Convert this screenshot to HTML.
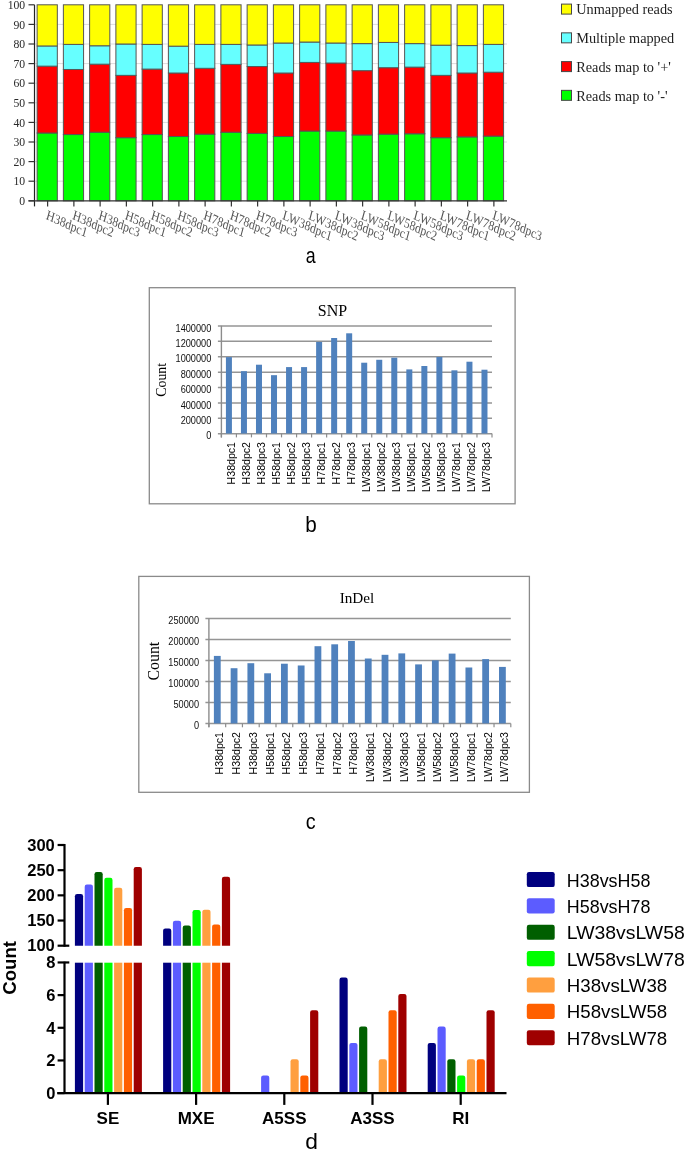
<!DOCTYPE html>
<html><head><meta charset="utf-8"><title>Figure</title>
<style>
html,body{margin:0;padding:0;background:#fff;}
body{width:685px;height:1149px;overflow:hidden;font-family:"Liberation Sans",sans-serif;}
svg{display:block;will-change:transform;}
</style></head><body>
<svg width="685" height="1149" viewBox="0 0 685 1149">
<rect width="685" height="1149" fill="#fff"/>
<g id="chartA">
<line x1="34.5" y1="181.2" x2="507" y2="181.2" stroke="#dcdcdc" stroke-width="1"/>
<line x1="34.5" y1="161.6" x2="507" y2="161.6" stroke="#dcdcdc" stroke-width="1"/>
<line x1="34.5" y1="142" x2="507" y2="142" stroke="#dcdcdc" stroke-width="1"/>
<line x1="34.5" y1="122.4" x2="507" y2="122.4" stroke="#dcdcdc" stroke-width="1"/>
<line x1="34.5" y1="102.8" x2="507" y2="102.8" stroke="#dcdcdc" stroke-width="1"/>
<line x1="34.5" y1="83.2" x2="507" y2="83.2" stroke="#dcdcdc" stroke-width="1"/>
<line x1="34.5" y1="63.6" x2="507" y2="63.6" stroke="#dcdcdc" stroke-width="1"/>
<line x1="34.5" y1="44" x2="507" y2="44" stroke="#dcdcdc" stroke-width="1"/>
<line x1="34.5" y1="24.4" x2="507" y2="24.4" stroke="#dcdcdc" stroke-width="1"/>
<rect x="37.12" y="132.98" width="20.2" height="67.82" fill="#00ff00" stroke="#555" stroke-width="1"/>
<rect x="37.12" y="66.15" width="20.2" height="66.84" fill="#ff0000" stroke="#555" stroke-width="1"/>
<rect x="37.12" y="45.96" width="20.2" height="20.19" fill="#66ffff" stroke="#555" stroke-width="1"/>
<rect x="37.12" y="4.8" width="20.2" height="41.16" fill="#ffff00" stroke="#555" stroke-width="1"/>
<rect x="63.37" y="134.55" width="20.2" height="66.25" fill="#00ff00" stroke="#555" stroke-width="1"/>
<rect x="63.37" y="69.48" width="20.2" height="65.07" fill="#ff0000" stroke="#555" stroke-width="1"/>
<rect x="63.37" y="44.39" width="20.2" height="25.09" fill="#66ffff" stroke="#555" stroke-width="1"/>
<rect x="63.37" y="4.8" width="20.2" height="39.59" fill="#ffff00" stroke="#555" stroke-width="1"/>
<rect x="89.62" y="132.2" width="20.2" height="68.6" fill="#00ff00" stroke="#555" stroke-width="1"/>
<rect x="89.62" y="64.19" width="20.2" height="68.01" fill="#ff0000" stroke="#555" stroke-width="1"/>
<rect x="89.62" y="45.76" width="20.2" height="18.42" fill="#66ffff" stroke="#555" stroke-width="1"/>
<rect x="89.62" y="4.8" width="20.2" height="40.96" fill="#ffff00" stroke="#555" stroke-width="1"/>
<rect x="115.88" y="137.69" width="20.2" height="63.11" fill="#00ff00" stroke="#555" stroke-width="1"/>
<rect x="115.88" y="75.36" width="20.2" height="62.33" fill="#ff0000" stroke="#555" stroke-width="1"/>
<rect x="115.88" y="44" width="20.2" height="31.36" fill="#66ffff" stroke="#555" stroke-width="1"/>
<rect x="115.88" y="4.8" width="20.2" height="39.2" fill="#ffff00" stroke="#555" stroke-width="1"/>
<rect x="142.12" y="134.55" width="20.2" height="66.25" fill="#00ff00" stroke="#555" stroke-width="1"/>
<rect x="142.12" y="69.09" width="20.2" height="65.46" fill="#ff0000" stroke="#555" stroke-width="1"/>
<rect x="142.12" y="44.39" width="20.2" height="24.7" fill="#66ffff" stroke="#555" stroke-width="1"/>
<rect x="142.12" y="4.8" width="20.2" height="39.59" fill="#ffff00" stroke="#555" stroke-width="1"/>
<rect x="168.38" y="136.51" width="20.2" height="64.29" fill="#00ff00" stroke="#555" stroke-width="1"/>
<rect x="168.38" y="73.01" width="20.2" height="63.5" fill="#ff0000" stroke="#555" stroke-width="1"/>
<rect x="168.38" y="46.16" width="20.2" height="26.85" fill="#66ffff" stroke="#555" stroke-width="1"/>
<rect x="168.38" y="4.8" width="20.2" height="41.36" fill="#ffff00" stroke="#555" stroke-width="1"/>
<rect x="194.62" y="134.16" width="20.2" height="66.64" fill="#00ff00" stroke="#555" stroke-width="1"/>
<rect x="194.62" y="68.3" width="20.2" height="65.86" fill="#ff0000" stroke="#555" stroke-width="1"/>
<rect x="194.62" y="44.39" width="20.2" height="23.91" fill="#66ffff" stroke="#555" stroke-width="1"/>
<rect x="194.62" y="4.8" width="20.2" height="39.59" fill="#ffff00" stroke="#555" stroke-width="1"/>
<rect x="220.88" y="132.2" width="20.2" height="68.6" fill="#00ff00" stroke="#555" stroke-width="1"/>
<rect x="220.88" y="64.38" width="20.2" height="67.82" fill="#ff0000" stroke="#555" stroke-width="1"/>
<rect x="220.88" y="44.39" width="20.2" height="19.99" fill="#66ffff" stroke="#555" stroke-width="1"/>
<rect x="220.88" y="4.8" width="20.2" height="39.59" fill="#ffff00" stroke="#555" stroke-width="1"/>
<rect x="247.13" y="133.38" width="20.2" height="67.42" fill="#00ff00" stroke="#555" stroke-width="1"/>
<rect x="247.13" y="66.54" width="20.2" height="66.84" fill="#ff0000" stroke="#555" stroke-width="1"/>
<rect x="247.13" y="44.98" width="20.2" height="21.56" fill="#66ffff" stroke="#555" stroke-width="1"/>
<rect x="247.13" y="4.8" width="20.2" height="40.18" fill="#ffff00" stroke="#555" stroke-width="1"/>
<rect x="273.38" y="136.51" width="20.2" height="64.29" fill="#00ff00" stroke="#555" stroke-width="1"/>
<rect x="273.38" y="73.01" width="20.2" height="63.5" fill="#ff0000" stroke="#555" stroke-width="1"/>
<rect x="273.38" y="43.02" width="20.2" height="29.99" fill="#66ffff" stroke="#555" stroke-width="1"/>
<rect x="273.38" y="4.8" width="20.2" height="38.22" fill="#ffff00" stroke="#555" stroke-width="1"/>
<rect x="299.62" y="131.02" width="20.2" height="69.78" fill="#00ff00" stroke="#555" stroke-width="1"/>
<rect x="299.62" y="62.42" width="20.2" height="68.6" fill="#ff0000" stroke="#555" stroke-width="1"/>
<rect x="299.62" y="42.04" width="20.2" height="20.38" fill="#66ffff" stroke="#555" stroke-width="1"/>
<rect x="299.62" y="4.8" width="20.2" height="37.24" fill="#ffff00" stroke="#555" stroke-width="1"/>
<rect x="325.88" y="131.02" width="20.2" height="69.78" fill="#00ff00" stroke="#555" stroke-width="1"/>
<rect x="325.88" y="63.01" width="20.2" height="68.01" fill="#ff0000" stroke="#555" stroke-width="1"/>
<rect x="325.88" y="43.02" width="20.2" height="19.99" fill="#66ffff" stroke="#555" stroke-width="1"/>
<rect x="325.88" y="4.8" width="20.2" height="38.22" fill="#ffff00" stroke="#555" stroke-width="1"/>
<rect x="352.12" y="134.94" width="20.2" height="65.86" fill="#00ff00" stroke="#555" stroke-width="1"/>
<rect x="352.12" y="70.66" width="20.2" height="64.29" fill="#ff0000" stroke="#555" stroke-width="1"/>
<rect x="352.12" y="43.61" width="20.2" height="27.05" fill="#66ffff" stroke="#555" stroke-width="1"/>
<rect x="352.12" y="4.8" width="20.2" height="38.81" fill="#ffff00" stroke="#555" stroke-width="1"/>
<rect x="378.38" y="134.16" width="20.2" height="66.64" fill="#00ff00" stroke="#555" stroke-width="1"/>
<rect x="378.38" y="67.72" width="20.2" height="66.44" fill="#ff0000" stroke="#555" stroke-width="1"/>
<rect x="378.38" y="42.43" width="20.2" height="25.28" fill="#66ffff" stroke="#555" stroke-width="1"/>
<rect x="378.38" y="4.8" width="20.2" height="37.63" fill="#ffff00" stroke="#555" stroke-width="1"/>
<rect x="404.62" y="133.77" width="20.2" height="67.03" fill="#00ff00" stroke="#555" stroke-width="1"/>
<rect x="404.62" y="67.13" width="20.2" height="66.64" fill="#ff0000" stroke="#555" stroke-width="1"/>
<rect x="404.62" y="43.61" width="20.2" height="23.52" fill="#66ffff" stroke="#555" stroke-width="1"/>
<rect x="404.62" y="4.8" width="20.2" height="38.81" fill="#ffff00" stroke="#555" stroke-width="1"/>
<rect x="430.88" y="137.69" width="20.2" height="63.11" fill="#00ff00" stroke="#555" stroke-width="1"/>
<rect x="430.88" y="75.36" width="20.2" height="62.33" fill="#ff0000" stroke="#555" stroke-width="1"/>
<rect x="430.88" y="45.18" width="20.2" height="30.18" fill="#66ffff" stroke="#555" stroke-width="1"/>
<rect x="430.88" y="4.8" width="20.2" height="40.38" fill="#ffff00" stroke="#555" stroke-width="1"/>
<rect x="457.12" y="136.9" width="20.2" height="63.9" fill="#00ff00" stroke="#555" stroke-width="1"/>
<rect x="457.12" y="73.01" width="20.2" height="63.9" fill="#ff0000" stroke="#555" stroke-width="1"/>
<rect x="457.12" y="45.57" width="20.2" height="27.44" fill="#66ffff" stroke="#555" stroke-width="1"/>
<rect x="457.12" y="4.8" width="20.2" height="40.77" fill="#ffff00" stroke="#555" stroke-width="1"/>
<rect x="483.38" y="136.12" width="20.2" height="64.68" fill="#00ff00" stroke="#555" stroke-width="1"/>
<rect x="483.38" y="72.22" width="20.2" height="63.9" fill="#ff0000" stroke="#555" stroke-width="1"/>
<rect x="483.38" y="44.39" width="20.2" height="27.83" fill="#66ffff" stroke="#555" stroke-width="1"/>
<rect x="483.38" y="4.8" width="20.2" height="39.59" fill="#ffff00" stroke="#555" stroke-width="1"/>
<line x1="34.5" y1="4.8" x2="34.5" y2="206.4" stroke="#222" stroke-width="1.2"/>
<line x1="28.5" y1="200.8" x2="507" y2="200.8" stroke="#333" stroke-width="1.2"/>
<line x1="28.5" y1="200.8" x2="34.5" y2="200.8" stroke="#333" stroke-width="1.2"/>
<text transform="translate(25.2 204.95) scale(1 1.1)" text-anchor="end" font-family='"Liberation Serif", serif' font-size="11.7" fill="#2a2a2a">0</text>
<line x1="28.5" y1="181.2" x2="34.5" y2="181.2" stroke="#333" stroke-width="1.2"/>
<text transform="translate(25.2 185.35) scale(1 1.1)" text-anchor="end" font-family='"Liberation Serif", serif' font-size="11.7" fill="#2a2a2a">10</text>
<line x1="28.5" y1="161.6" x2="34.5" y2="161.6" stroke="#333" stroke-width="1.2"/>
<text transform="translate(25.2 165.75) scale(1 1.1)" text-anchor="end" font-family='"Liberation Serif", serif' font-size="11.7" fill="#2a2a2a">20</text>
<line x1="28.5" y1="142" x2="34.5" y2="142" stroke="#333" stroke-width="1.2"/>
<text transform="translate(25.2 146.15) scale(1 1.1)" text-anchor="end" font-family='"Liberation Serif", serif' font-size="11.7" fill="#2a2a2a">30</text>
<line x1="28.5" y1="122.4" x2="34.5" y2="122.4" stroke="#333" stroke-width="1.2"/>
<text transform="translate(25.2 126.55) scale(1 1.1)" text-anchor="end" font-family='"Liberation Serif", serif' font-size="11.7" fill="#2a2a2a">40</text>
<line x1="28.5" y1="102.8" x2="34.5" y2="102.8" stroke="#333" stroke-width="1.2"/>
<text transform="translate(25.2 106.95) scale(1 1.1)" text-anchor="end" font-family='"Liberation Serif", serif' font-size="11.7" fill="#2a2a2a">50</text>
<line x1="28.5" y1="83.2" x2="34.5" y2="83.2" stroke="#333" stroke-width="1.2"/>
<text transform="translate(25.2 87.35) scale(1 1.1)" text-anchor="end" font-family='"Liberation Serif", serif' font-size="11.7" fill="#2a2a2a">60</text>
<line x1="28.5" y1="63.6" x2="34.5" y2="63.6" stroke="#333" stroke-width="1.2"/>
<text transform="translate(25.2 67.75) scale(1 1.1)" text-anchor="end" font-family='"Liberation Serif", serif' font-size="11.7" fill="#2a2a2a">70</text>
<line x1="28.5" y1="44" x2="34.5" y2="44" stroke="#333" stroke-width="1.2"/>
<text transform="translate(25.2 48.15) scale(1 1.1)" text-anchor="end" font-family='"Liberation Serif", serif' font-size="11.7" fill="#2a2a2a">80</text>
<line x1="28.5" y1="24.4" x2="34.5" y2="24.4" stroke="#333" stroke-width="1.2"/>
<text transform="translate(25.2 28.55) scale(1 1.1)" text-anchor="end" font-family='"Liberation Serif", serif' font-size="11.7" fill="#2a2a2a">90</text>
<line x1="28.5" y1="4.8" x2="34.5" y2="4.8" stroke="#333" stroke-width="1.2"/>
<text transform="translate(25.2 8.95) scale(1 1.1)" text-anchor="end" font-family='"Liberation Serif", serif' font-size="11.7" fill="#2a2a2a">100</text>
<line x1="47.62" y1="200.8" x2="47.62" y2="206.4" stroke="#333" stroke-width="1.2"/>
<text transform="matrix(0.910 0.4147 -0.29 1.082 45.62 218.8)" font-family='"Liberation Serif", serif' font-size="12.1" fill="#555">H38dpc1</text>
<line x1="73.88" y1="200.8" x2="73.88" y2="206.4" stroke="#333" stroke-width="1.2"/>
<text transform="matrix(0.910 0.4147 -0.29 1.082 71.88 218.8)" font-family='"Liberation Serif", serif' font-size="12.1" fill="#555">H38dpc2</text>
<line x1="100.12" y1="200.8" x2="100.12" y2="206.4" stroke="#333" stroke-width="1.2"/>
<text transform="matrix(0.910 0.4147 -0.29 1.082 98.12 218.8)" font-family='"Liberation Serif", serif' font-size="12.1" fill="#555">H38dpc3</text>
<line x1="126.38" y1="200.8" x2="126.38" y2="206.4" stroke="#333" stroke-width="1.2"/>
<text transform="matrix(0.910 0.4147 -0.29 1.082 124.38 218.8)" font-family='"Liberation Serif", serif' font-size="12.1" fill="#555">H58dpc1</text>
<line x1="152.62" y1="200.8" x2="152.62" y2="206.4" stroke="#333" stroke-width="1.2"/>
<text transform="matrix(0.910 0.4147 -0.29 1.082 150.62 218.8)" font-family='"Liberation Serif", serif' font-size="12.1" fill="#555">H58dpc2</text>
<line x1="178.88" y1="200.8" x2="178.88" y2="206.4" stroke="#333" stroke-width="1.2"/>
<text transform="matrix(0.910 0.4147 -0.29 1.082 176.88 218.8)" font-family='"Liberation Serif", serif' font-size="12.1" fill="#555">H58dpc3</text>
<line x1="205.12" y1="200.8" x2="205.12" y2="206.4" stroke="#333" stroke-width="1.2"/>
<text transform="matrix(0.910 0.4147 -0.29 1.082 203.12 218.8)" font-family='"Liberation Serif", serif' font-size="12.1" fill="#555">H78dpc1</text>
<line x1="231.38" y1="200.8" x2="231.38" y2="206.4" stroke="#333" stroke-width="1.2"/>
<text transform="matrix(0.910 0.4147 -0.29 1.082 229.38 218.8)" font-family='"Liberation Serif", serif' font-size="12.1" fill="#555">H78dpc2</text>
<line x1="257.62" y1="200.8" x2="257.62" y2="206.4" stroke="#333" stroke-width="1.2"/>
<text transform="matrix(0.910 0.4147 -0.29 1.082 255.62 218.8)" font-family='"Liberation Serif", serif' font-size="12.1" fill="#555">H78dpc3</text>
<line x1="283.88" y1="200.8" x2="283.88" y2="206.4" stroke="#333" stroke-width="1.2"/>
<text transform="matrix(0.910 0.4147 -0.29 1.082 281.88 218.8)" font-family='"Liberation Serif", serif' font-size="12.1" fill="#555">LW38dpc1</text>
<line x1="310.12" y1="200.8" x2="310.12" y2="206.4" stroke="#333" stroke-width="1.2"/>
<text transform="matrix(0.910 0.4147 -0.29 1.082 308.12 218.8)" font-family='"Liberation Serif", serif' font-size="12.1" fill="#555">LW38dpc2</text>
<line x1="336.38" y1="200.8" x2="336.38" y2="206.4" stroke="#333" stroke-width="1.2"/>
<text transform="matrix(0.910 0.4147 -0.29 1.082 334.38 218.8)" font-family='"Liberation Serif", serif' font-size="12.1" fill="#555">LW38dpc3</text>
<line x1="362.62" y1="200.8" x2="362.62" y2="206.4" stroke="#333" stroke-width="1.2"/>
<text transform="matrix(0.910 0.4147 -0.29 1.082 360.62 218.8)" font-family='"Liberation Serif", serif' font-size="12.1" fill="#555">LW58dpc1</text>
<line x1="388.88" y1="200.8" x2="388.88" y2="206.4" stroke="#333" stroke-width="1.2"/>
<text transform="matrix(0.910 0.4147 -0.29 1.082 386.88 218.8)" font-family='"Liberation Serif", serif' font-size="12.1" fill="#555">LW58dpc2</text>
<line x1="415.12" y1="200.8" x2="415.12" y2="206.4" stroke="#333" stroke-width="1.2"/>
<text transform="matrix(0.910 0.4147 -0.29 1.082 413.12 218.8)" font-family='"Liberation Serif", serif' font-size="12.1" fill="#555">LW58dpc3</text>
<line x1="441.38" y1="200.8" x2="441.38" y2="206.4" stroke="#333" stroke-width="1.2"/>
<text transform="matrix(0.910 0.4147 -0.29 1.082 439.38 218.8)" font-family='"Liberation Serif", serif' font-size="12.1" fill="#555">LW78dpc1</text>
<line x1="467.62" y1="200.8" x2="467.62" y2="206.4" stroke="#333" stroke-width="1.2"/>
<text transform="matrix(0.910 0.4147 -0.29 1.082 465.62 218.8)" font-family='"Liberation Serif", serif' font-size="12.1" fill="#555">LW78dpc2</text>
<line x1="493.88" y1="200.8" x2="493.88" y2="206.4" stroke="#333" stroke-width="1.2"/>
<text transform="matrix(0.910 0.4147 -0.29 1.082 491.88 218.8)" font-family='"Liberation Serif", serif' font-size="12.1" fill="#555">LW78dpc3</text>
<rect x="561.5" y="4.1" width="10" height="10" fill="#ffff00" stroke="#484848" stroke-width="1"/>
<text x="576.2" y="14.3" font-family='"Liberation Serif", serif' font-size="14.3" fill="#1e1e1e">Unmapped reads</text>
<rect x="561.5" y="32.85" width="10" height="10" fill="#66ffff" stroke="#484848" stroke-width="1"/>
<text x="576.2" y="43.05" font-family='"Liberation Serif", serif' font-size="14.3" fill="#1e1e1e">Multiple mapped</text>
<rect x="561.5" y="61.6" width="10" height="10" fill="#ff0000" stroke="#484848" stroke-width="1"/>
<text x="576.2" y="71.8" font-family='"Liberation Serif", serif' font-size="14.3" fill="#1e1e1e">Reads map to &#39;+&#39;</text>
<rect x="561.5" y="90.35" width="10" height="10" fill="#00ff00" stroke="#484848" stroke-width="1"/>
<text x="576.2" y="100.55" font-family='"Liberation Serif", serif' font-size="14.3" fill="#1e1e1e">Reads map to &#39;-&#39;</text>
</g>
<text transform="translate(310.7 262.7) scale(0.78 1)" text-anchor="middle" font-family='"Liberation Sans", sans-serif' font-size="22.8" fill="#000">a</text>
<text transform="translate(311 532.3) scale(0.95 1)" text-anchor="middle" font-family='"Liberation Sans", sans-serif' font-size="21.8" fill="#000">b</text>
<text transform="translate(310.8 829.4) scale(0.9 1)" text-anchor="middle" font-family='"Liberation Sans", sans-serif' font-size="22" fill="#000">c</text>
<text x="311.6" y="1148.8" text-anchor="middle" font-family='"Liberation Sans", sans-serif' font-size="22.8" fill="#000">d</text>
<rect x="149.3" y="287.7" width="365.8" height="216.1" fill="#fff" stroke="#8a8a8a" stroke-width="1.3"/>
<text transform="translate(332.4 315.7) scale(1 1.06)" text-anchor="middle" font-family='"Liberation Serif", serif' font-size="16" fill="#000">SNP</text>
<line x1="217.9" y1="433.7" x2="492" y2="433.7" stroke="#959595" stroke-width="1.5"/>
<text transform="translate(211.3 439.4) scale(1 1.1)" text-anchor="end" font-family='"Liberation Sans", sans-serif' font-size="9.2" fill="#111">0</text>
<line x1="217.9" y1="418.31" x2="492" y2="418.31" stroke="#959595" stroke-width="1.5"/>
<text transform="translate(211.3 424.01) scale(1 1.1)" text-anchor="end" font-family='"Liberation Sans", sans-serif' font-size="9.2" fill="#111">200000</text>
<line x1="217.9" y1="402.92" x2="492" y2="402.92" stroke="#959595" stroke-width="1.5"/>
<text transform="translate(211.3 408.62) scale(1 1.1)" text-anchor="end" font-family='"Liberation Sans", sans-serif' font-size="9.2" fill="#111">400000</text>
<line x1="217.9" y1="387.53" x2="492" y2="387.53" stroke="#959595" stroke-width="1.5"/>
<text transform="translate(211.3 393.23) scale(1 1.1)" text-anchor="end" font-family='"Liberation Sans", sans-serif' font-size="9.2" fill="#111">600000</text>
<line x1="217.9" y1="372.14" x2="492" y2="372.14" stroke="#959595" stroke-width="1.5"/>
<text transform="translate(211.3 377.84) scale(1 1.1)" text-anchor="end" font-family='"Liberation Sans", sans-serif' font-size="9.2" fill="#111">800000</text>
<line x1="217.9" y1="356.75" x2="492" y2="356.75" stroke="#959595" stroke-width="1.5"/>
<text transform="translate(211.3 362.45) scale(1 1.1)" text-anchor="end" font-family='"Liberation Sans", sans-serif' font-size="9.2" fill="#111">1000000</text>
<line x1="217.9" y1="341.36" x2="492" y2="341.36" stroke="#959595" stroke-width="1.5"/>
<text transform="translate(211.3 347.06) scale(1 1.1)" text-anchor="end" font-family='"Liberation Sans", sans-serif' font-size="9.2" fill="#111">1200000</text>
<line x1="217.9" y1="325.97" x2="492" y2="325.97" stroke="#959595" stroke-width="1.5"/>
<text transform="translate(211.3 331.67) scale(1 1.1)" text-anchor="end" font-family='"Liberation Sans", sans-serif' font-size="9.2" fill="#111">1400000</text>
<line x1="221.4" y1="325.77" x2="221.4" y2="437.4" stroke="#8c8c8c" stroke-width="1.4"/>
<line x1="221.4" y1="433.5" x2="221.4" y2="437.4" stroke="#8c8c8c" stroke-width="1.2"/>
<line x1="236.43" y1="433.5" x2="236.43" y2="437.4" stroke="#8c8c8c" stroke-width="1.2"/>
<line x1="251.47" y1="433.5" x2="251.47" y2="437.4" stroke="#8c8c8c" stroke-width="1.2"/>
<line x1="266.5" y1="433.5" x2="266.5" y2="437.4" stroke="#8c8c8c" stroke-width="1.2"/>
<line x1="281.53" y1="433.5" x2="281.53" y2="437.4" stroke="#8c8c8c" stroke-width="1.2"/>
<line x1="296.57" y1="433.5" x2="296.57" y2="437.4" stroke="#8c8c8c" stroke-width="1.2"/>
<line x1="311.6" y1="433.5" x2="311.6" y2="437.4" stroke="#8c8c8c" stroke-width="1.2"/>
<line x1="326.63" y1="433.5" x2="326.63" y2="437.4" stroke="#8c8c8c" stroke-width="1.2"/>
<line x1="341.67" y1="433.5" x2="341.67" y2="437.4" stroke="#8c8c8c" stroke-width="1.2"/>
<line x1="356.7" y1="433.5" x2="356.7" y2="437.4" stroke="#8c8c8c" stroke-width="1.2"/>
<line x1="371.73" y1="433.5" x2="371.73" y2="437.4" stroke="#8c8c8c" stroke-width="1.2"/>
<line x1="386.77" y1="433.5" x2="386.77" y2="437.4" stroke="#8c8c8c" stroke-width="1.2"/>
<line x1="401.8" y1="433.5" x2="401.8" y2="437.4" stroke="#8c8c8c" stroke-width="1.2"/>
<line x1="416.83" y1="433.5" x2="416.83" y2="437.4" stroke="#8c8c8c" stroke-width="1.2"/>
<line x1="431.87" y1="433.5" x2="431.87" y2="437.4" stroke="#8c8c8c" stroke-width="1.2"/>
<line x1="446.9" y1="433.5" x2="446.9" y2="437.4" stroke="#8c8c8c" stroke-width="1.2"/>
<line x1="461.93" y1="433.5" x2="461.93" y2="437.4" stroke="#8c8c8c" stroke-width="1.2"/>
<line x1="476.97" y1="433.5" x2="476.97" y2="437.4" stroke="#8c8c8c" stroke-width="1.2"/>
<line x1="492" y1="433.5" x2="492" y2="437.4" stroke="#8c8c8c" stroke-width="1.2"/>
<rect x="225.92" y="357.09" width="6" height="76.41" fill="#4f81bd"/>
<text transform="translate(234.72 442) rotate(-90)" text-anchor="end" font-family='"Liberation Sans", sans-serif' font-size="10.6" fill="#000">H38dpc1</text>
<rect x="240.95" y="371.17" width="6" height="62.33" fill="#4f81bd"/>
<text transform="translate(249.75 442) rotate(-90)" text-anchor="end" font-family='"Liberation Sans", sans-serif' font-size="10.6" fill="#000">H38dpc2</text>
<rect x="255.98" y="364.71" width="6" height="68.79" fill="#4f81bd"/>
<text transform="translate(264.78 442) rotate(-90)" text-anchor="end" font-family='"Liberation Sans", sans-serif' font-size="10.6" fill="#000">H38dpc3</text>
<rect x="271.02" y="375.17" width="6" height="58.33" fill="#4f81bd"/>
<text transform="translate(279.82 442) rotate(-90)" text-anchor="end" font-family='"Liberation Sans", sans-serif' font-size="10.6" fill="#000">H58dpc1</text>
<rect x="286.05" y="367.09" width="6" height="66.41" fill="#4f81bd"/>
<text transform="translate(294.85 442) rotate(-90)" text-anchor="end" font-family='"Liberation Sans", sans-serif' font-size="10.6" fill="#000">H58dpc2</text>
<rect x="301.08" y="367.09" width="6" height="66.41" fill="#4f81bd"/>
<text transform="translate(309.88 442) rotate(-90)" text-anchor="end" font-family='"Liberation Sans", sans-serif' font-size="10.6" fill="#000">H58dpc3</text>
<rect x="316.12" y="341.93" width="6" height="91.57" fill="#4f81bd"/>
<text transform="translate(324.92 442) rotate(-90)" text-anchor="end" font-family='"Liberation Sans", sans-serif' font-size="10.6" fill="#000">H78dpc1</text>
<rect x="331.15" y="338.01" width="6" height="95.49" fill="#4f81bd"/>
<text transform="translate(339.95 442) rotate(-90)" text-anchor="end" font-family='"Liberation Sans", sans-serif' font-size="10.6" fill="#000">H78dpc2</text>
<rect x="346.18" y="333.31" width="6" height="100.19" fill="#4f81bd"/>
<text transform="translate(354.98 442) rotate(-90)" text-anchor="end" font-family='"Liberation Sans", sans-serif' font-size="10.6" fill="#000">H78dpc3</text>
<rect x="361.22" y="362.71" width="6" height="70.79" fill="#4f81bd"/>
<text transform="translate(370.02 442) rotate(-90)" text-anchor="end" font-family='"Liberation Sans", sans-serif' font-size="10.6" fill="#000">LW38dpc1</text>
<rect x="376.25" y="359.78" width="6" height="73.72" fill="#4f81bd"/>
<text transform="translate(385.05 442) rotate(-90)" text-anchor="end" font-family='"Liberation Sans", sans-serif' font-size="10.6" fill="#000">LW38dpc2</text>
<rect x="391.28" y="357.7" width="6" height="75.8" fill="#4f81bd"/>
<text transform="translate(400.08 442) rotate(-90)" text-anchor="end" font-family='"Liberation Sans", sans-serif' font-size="10.6" fill="#000">LW38dpc3</text>
<rect x="406.32" y="369.4" width="6" height="64.1" fill="#4f81bd"/>
<text transform="translate(415.12 442) rotate(-90)" text-anchor="end" font-family='"Liberation Sans", sans-serif' font-size="10.6" fill="#000">LW58dpc1</text>
<rect x="421.35" y="366.01" width="6" height="67.49" fill="#4f81bd"/>
<text transform="translate(430.15 442) rotate(-90)" text-anchor="end" font-family='"Liberation Sans", sans-serif' font-size="10.6" fill="#000">LW58dpc2</text>
<rect x="436.38" y="356.93" width="6" height="76.57" fill="#4f81bd"/>
<text transform="translate(445.18 442) rotate(-90)" text-anchor="end" font-family='"Liberation Sans", sans-serif' font-size="10.6" fill="#000">LW58dpc3</text>
<rect x="451.42" y="370.32" width="6" height="63.18" fill="#4f81bd"/>
<text transform="translate(460.22 442) rotate(-90)" text-anchor="end" font-family='"Liberation Sans", sans-serif' font-size="10.6" fill="#000">LW78dpc1</text>
<rect x="466.45" y="361.71" width="6" height="71.79" fill="#4f81bd"/>
<text transform="translate(475.25 442) rotate(-90)" text-anchor="end" font-family='"Liberation Sans", sans-serif' font-size="10.6" fill="#000">LW78dpc2</text>
<rect x="481.48" y="369.71" width="6" height="63.79" fill="#4f81bd"/>
<text transform="translate(490.28 442) rotate(-90)" text-anchor="end" font-family='"Liberation Sans", sans-serif' font-size="10.6" fill="#000">LW78dpc3</text>
<text transform="translate(166 379.8) rotate(-90)" text-anchor="middle" font-family='"Liberation Serif", serif' font-size="13.8" fill="#000">Count</text>
<rect x="138.8" y="576.4" width="390.6" height="215.9" fill="#fff" stroke="#8a8a8a" stroke-width="1.3"/>
<text transform="translate(357 603.4) scale(1 1)" text-anchor="middle" font-family='"Liberation Serif", serif' font-size="15.2" fill="#000">InDel</text>
<line x1="205.4" y1="723.6" x2="510.8" y2="723.6" stroke="#959595" stroke-width="1.5"/>
<text transform="translate(199 729) scale(1 1.1)" text-anchor="end" font-family='"Liberation Sans", sans-serif' font-size="9.2" fill="#111">0</text>
<line x1="205.4" y1="702.6" x2="510.8" y2="702.6" stroke="#959595" stroke-width="1.5"/>
<text transform="translate(199 708) scale(1 1.1)" text-anchor="end" font-family='"Liberation Sans", sans-serif' font-size="9.2" fill="#111">50000</text>
<line x1="205.4" y1="681.6" x2="510.8" y2="681.6" stroke="#959595" stroke-width="1.5"/>
<text transform="translate(199 687) scale(1 1.1)" text-anchor="end" font-family='"Liberation Sans", sans-serif' font-size="9.2" fill="#111">100000</text>
<line x1="205.4" y1="660.6" x2="510.8" y2="660.6" stroke="#959595" stroke-width="1.5"/>
<text transform="translate(199 666) scale(1 1.1)" text-anchor="end" font-family='"Liberation Sans", sans-serif' font-size="9.2" fill="#111">150000</text>
<line x1="205.4" y1="639.6" x2="510.8" y2="639.6" stroke="#959595" stroke-width="1.5"/>
<text transform="translate(199 645) scale(1 1.1)" text-anchor="end" font-family='"Liberation Sans", sans-serif' font-size="9.2" fill="#111">200000</text>
<line x1="205.4" y1="618.6" x2="510.8" y2="618.6" stroke="#959595" stroke-width="1.5"/>
<text transform="translate(199 624) scale(1 1.1)" text-anchor="end" font-family='"Liberation Sans", sans-serif' font-size="9.2" fill="#111">250000</text>
<line x1="208.9" y1="618.4" x2="208.9" y2="727.3" stroke="#8c8c8c" stroke-width="1.4"/>
<line x1="208.9" y1="723.4" x2="208.9" y2="727.3" stroke="#8c8c8c" stroke-width="1.2"/>
<line x1="225.67" y1="723.4" x2="225.67" y2="727.3" stroke="#8c8c8c" stroke-width="1.2"/>
<line x1="242.44" y1="723.4" x2="242.44" y2="727.3" stroke="#8c8c8c" stroke-width="1.2"/>
<line x1="259.22" y1="723.4" x2="259.22" y2="727.3" stroke="#8c8c8c" stroke-width="1.2"/>
<line x1="275.99" y1="723.4" x2="275.99" y2="727.3" stroke="#8c8c8c" stroke-width="1.2"/>
<line x1="292.76" y1="723.4" x2="292.76" y2="727.3" stroke="#8c8c8c" stroke-width="1.2"/>
<line x1="309.53" y1="723.4" x2="309.53" y2="727.3" stroke="#8c8c8c" stroke-width="1.2"/>
<line x1="326.31" y1="723.4" x2="326.31" y2="727.3" stroke="#8c8c8c" stroke-width="1.2"/>
<line x1="343.08" y1="723.4" x2="343.08" y2="727.3" stroke="#8c8c8c" stroke-width="1.2"/>
<line x1="359.85" y1="723.4" x2="359.85" y2="727.3" stroke="#8c8c8c" stroke-width="1.2"/>
<line x1="376.62" y1="723.4" x2="376.62" y2="727.3" stroke="#8c8c8c" stroke-width="1.2"/>
<line x1="393.39" y1="723.4" x2="393.39" y2="727.3" stroke="#8c8c8c" stroke-width="1.2"/>
<line x1="410.17" y1="723.4" x2="410.17" y2="727.3" stroke="#8c8c8c" stroke-width="1.2"/>
<line x1="426.94" y1="723.4" x2="426.94" y2="727.3" stroke="#8c8c8c" stroke-width="1.2"/>
<line x1="443.71" y1="723.4" x2="443.71" y2="727.3" stroke="#8c8c8c" stroke-width="1.2"/>
<line x1="460.48" y1="723.4" x2="460.48" y2="727.3" stroke="#8c8c8c" stroke-width="1.2"/>
<line x1="477.26" y1="723.4" x2="477.26" y2="727.3" stroke="#8c8c8c" stroke-width="1.2"/>
<line x1="494.03" y1="723.4" x2="494.03" y2="727.3" stroke="#8c8c8c" stroke-width="1.2"/>
<line x1="510.8" y1="723.4" x2="510.8" y2="727.3" stroke="#8c8c8c" stroke-width="1.2"/>
<rect x="213.89" y="655.91" width="6.8" height="67.49" fill="#4f81bd"/>
<text transform="translate(223.29 732) rotate(-90)" text-anchor="end" font-family='"Liberation Sans", sans-serif' font-size="10.6" fill="#000">H38dpc1</text>
<rect x="230.66" y="668.21" width="6.8" height="55.19" fill="#4f81bd"/>
<text transform="translate(240.06 732) rotate(-90)" text-anchor="end" font-family='"Liberation Sans", sans-serif' font-size="10.6" fill="#000">H38dpc2</text>
<rect x="247.43" y="663.21" width="6.8" height="60.19" fill="#4f81bd"/>
<text transform="translate(256.83 732) rotate(-90)" text-anchor="end" font-family='"Liberation Sans", sans-serif' font-size="10.6" fill="#000">H38dpc3</text>
<rect x="264.2" y="673.29" width="6.8" height="50.11" fill="#4f81bd"/>
<text transform="translate(273.6 732) rotate(-90)" text-anchor="end" font-family='"Liberation Sans", sans-serif' font-size="10.6" fill="#000">H58dpc1</text>
<rect x="280.98" y="663.72" width="6.8" height="59.68" fill="#4f81bd"/>
<text transform="translate(290.38 732) rotate(-90)" text-anchor="end" font-family='"Liberation Sans", sans-serif' font-size="10.6" fill="#000">H58dpc2</text>
<rect x="297.75" y="665.48" width="6.8" height="57.92" fill="#4f81bd"/>
<text transform="translate(307.15 732) rotate(-90)" text-anchor="end" font-family='"Liberation Sans", sans-serif' font-size="10.6" fill="#000">H58dpc3</text>
<rect x="314.52" y="646.2" width="6.8" height="77.2" fill="#4f81bd"/>
<text transform="translate(323.92 732) rotate(-90)" text-anchor="end" font-family='"Liberation Sans", sans-serif' font-size="10.6" fill="#000">H78dpc1</text>
<rect x="331.29" y="644.31" width="6.8" height="79.09" fill="#4f81bd"/>
<text transform="translate(340.69 732) rotate(-90)" text-anchor="end" font-family='"Liberation Sans", sans-serif' font-size="10.6" fill="#000">H78dpc2</text>
<rect x="348.06" y="641" width="6.8" height="82.4" fill="#4f81bd"/>
<text transform="translate(357.46 732) rotate(-90)" text-anchor="end" font-family='"Liberation Sans", sans-serif' font-size="10.6" fill="#000">H78dpc3</text>
<rect x="364.84" y="658.51" width="6.8" height="64.89" fill="#4f81bd"/>
<text transform="translate(374.24 732) rotate(-90)" text-anchor="end" font-family='"Liberation Sans", sans-serif' font-size="10.6" fill="#000">LW38dpc1</text>
<rect x="381.61" y="654.81" width="6.8" height="68.59" fill="#4f81bd"/>
<text transform="translate(391.01 732) rotate(-90)" text-anchor="end" font-family='"Liberation Sans", sans-serif' font-size="10.6" fill="#000">LW38dpc2</text>
<rect x="398.38" y="653.39" width="6.8" height="70.01" fill="#4f81bd"/>
<text transform="translate(407.78 732) rotate(-90)" text-anchor="end" font-family='"Liberation Sans", sans-serif' font-size="10.6" fill="#000">LW38dpc3</text>
<rect x="415.15" y="664.39" width="6.8" height="59.01" fill="#4f81bd"/>
<text transform="translate(424.55 732) rotate(-90)" text-anchor="end" font-family='"Liberation Sans", sans-serif' font-size="10.6" fill="#000">LW58dpc1</text>
<rect x="431.93" y="660.32" width="6.8" height="63.08" fill="#4f81bd"/>
<text transform="translate(441.33 732) rotate(-90)" text-anchor="end" font-family='"Liberation Sans", sans-serif' font-size="10.6" fill="#000">LW58dpc2</text>
<rect x="448.7" y="653.6" width="6.8" height="69.8" fill="#4f81bd"/>
<text transform="translate(458.1 732) rotate(-90)" text-anchor="end" font-family='"Liberation Sans", sans-serif' font-size="10.6" fill="#000">LW58dpc3</text>
<rect x="465.47" y="667.5" width="6.8" height="55.9" fill="#4f81bd"/>
<text transform="translate(474.87 732) rotate(-90)" text-anchor="end" font-family='"Liberation Sans", sans-serif' font-size="10.6" fill="#000">LW78dpc1</text>
<rect x="482.24" y="659.1" width="6.8" height="64.3" fill="#4f81bd"/>
<text transform="translate(491.64 732) rotate(-90)" text-anchor="end" font-family='"Liberation Sans", sans-serif' font-size="10.6" fill="#000">LW78dpc2</text>
<rect x="499.01" y="666.91" width="6.8" height="56.49" fill="#4f81bd"/>
<text transform="translate(508.41 732) rotate(-90)" text-anchor="end" font-family='"Liberation Sans", sans-serif' font-size="10.6" fill="#000">LW78dpc3</text>
<text transform="translate(158.7 661.1) rotate(-90)" text-anchor="middle" font-family='"Liberation Serif", serif' font-size="15.8" fill="#000">Count</text>
<g id="chartD">
<path d="M74.9 945.7 V896.25 Q74.9 894.05 77.1 894.05 H80.9 Q83.1 894.05 83.1 896.25 V945.7 Z" fill="#00007f"/>
<rect x="74.9" y="962.7" width="8.2" height="130.4" fill="#00007f"/>
<path d="M84.7 945.7 V886.68 Q84.7 884.48 86.9 884.48 H90.7 Q92.9 884.48 92.9 886.68 V945.7 Z" fill="#5c5cff"/>
<rect x="84.7" y="962.7" width="8.2" height="130.4" fill="#5c5cff"/>
<path d="M94.5 945.7 V874.14 Q94.5 871.94 96.7 871.94 H100.5 Q102.7 871.94 102.7 874.14 V945.7 Z" fill="#005f00"/>
<rect x="94.5" y="962.7" width="8.2" height="130.4" fill="#005f00"/>
<path d="M104.3 945.7 V879.93 Q104.3 877.73 106.5 877.73 H110.3 Q112.5 877.73 112.5 879.93 V945.7 Z" fill="#00ff00"/>
<rect x="104.3" y="962.7" width="8.2" height="130.4" fill="#00ff00"/>
<path d="M114.1 945.7 V889.9 Q114.1 887.7 116.3 887.7 H120.1 Q122.3 887.7 122.3 889.9 V945.7 Z" fill="#ff9f3f"/>
<rect x="114.1" y="962.7" width="8.2" height="130.4" fill="#ff9f3f"/>
<path d="M123.9 945.7 V910.29 Q123.9 908.09 126.1 908.09 H129.9 Q132.1 908.09 132.1 910.29 V945.7 Z" fill="#ff6000"/>
<rect x="123.9" y="962.7" width="8.2" height="130.4" fill="#ff6000"/>
<path d="M133.7 945.7 V869.31 Q133.7 867.11 135.9 867.11 H139.7 Q141.9 867.11 141.9 869.31 V945.7 Z" fill="#9f0000"/>
<rect x="133.7" y="962.7" width="8.2" height="130.4" fill="#9f0000"/>
<path d="M163.1 945.7 V930.79 Q163.1 928.59 165.3 928.59 H169.1 Q171.3 928.59 171.3 930.79 V945.7 Z" fill="#00007f"/>
<rect x="163.1" y="962.7" width="8.2" height="130.4" fill="#00007f"/>
<path d="M172.9 945.7 V923.03 Q172.9 920.83 175.1 920.83 H178.9 Q181.1 920.83 181.1 923.03 V945.7 Z" fill="#5c5cff"/>
<rect x="172.9" y="962.7" width="8.2" height="130.4" fill="#5c5cff"/>
<path d="M182.7 945.7 V927.81 Q182.7 925.61 184.9 925.61 H188.7 Q190.9 925.61 190.9 927.81 V945.7 Z" fill="#005f00"/>
<rect x="182.7" y="962.7" width="8.2" height="130.4" fill="#005f00"/>
<path d="M192.5 945.7 V912.16 Q192.5 909.96 194.7 909.96 H198.5 Q200.7 909.96 200.7 912.16 V945.7 Z" fill="#00ff00"/>
<rect x="192.5" y="962.7" width="8.2" height="130.4" fill="#00ff00"/>
<path d="M202.3 945.7 V911.85 Q202.3 909.65 204.5 909.65 H208.3 Q210.5 909.65 210.5 911.85 V945.7 Z" fill="#ff9f3f"/>
<rect x="202.3" y="962.7" width="8.2" height="130.4" fill="#ff9f3f"/>
<path d="M212.1 945.7 V926.71 Q212.1 924.51 214.3 924.51 H218.1 Q220.3 924.51 220.3 926.71 V945.7 Z" fill="#ff6000"/>
<rect x="212.1" y="962.7" width="8.2" height="130.4" fill="#ff6000"/>
<path d="M221.9 945.7 V879.03 Q221.9 876.83 224.1 876.83 H227.9 Q230.1 876.83 230.1 879.03 V945.7 Z" fill="#9f0000"/>
<rect x="221.9" y="962.7" width="8.2" height="130.4" fill="#9f0000"/>
<path d="M261.1 1093.1 V1077.77 Q261.1 1075.57 263.3 1075.57 H267.1 Q269.3 1075.57 269.3 1077.77 V1093.1 Z" fill="#5c5cff"/>
<path d="M290.5 1093.1 V1061.44 Q290.5 1059.24 292.7 1059.24 H296.5 Q298.7 1059.24 298.7 1061.44 V1093.1 Z" fill="#ff9f3f"/>
<path d="M300.3 1093.1 V1077.77 Q300.3 1075.57 302.5 1075.57 H306.3 Q308.5 1075.57 308.5 1077.77 V1093.1 Z" fill="#ff6000"/>
<path d="M310.1 1093.1 V1012.45 Q310.1 1010.25 312.3 1010.25 H316.1 Q318.3 1010.25 318.3 1012.45 V1093.1 Z" fill="#9f0000"/>
<path d="M339.5 1093.1 V979.79 Q339.5 977.59 341.7 977.59 H345.5 Q347.7 977.59 347.7 979.79 V1093.1 Z" fill="#00007f"/>
<path d="M349.3 1093.1 V1045.11 Q349.3 1042.91 351.5 1042.91 H355.3 Q357.5 1042.91 357.5 1045.11 V1093.1 Z" fill="#5c5cff"/>
<path d="M359.1 1093.1 V1028.78 Q359.1 1026.58 361.3 1026.58 H365.1 Q367.3 1026.58 367.3 1028.78 V1093.1 Z" fill="#005f00"/>
<path d="M378.7 1093.1 V1061.44 Q378.7 1059.24 380.9 1059.24 H384.7 Q386.9 1059.24 386.9 1061.44 V1093.1 Z" fill="#ff9f3f"/>
<path d="M388.5 1093.1 V1012.45 Q388.5 1010.25 390.7 1010.25 H394.5 Q396.7 1010.25 396.7 1012.45 V1093.1 Z" fill="#ff6000"/>
<path d="M398.3 1093.1 V996.12 Q398.3 993.92 400.5 993.92 H404.3 Q406.5 993.92 406.5 996.12 V1093.1 Z" fill="#9f0000"/>
<path d="M427.7 1093.1 V1045.11 Q427.7 1042.91 429.9 1042.91 H433.7 Q435.9 1042.91 435.9 1045.11 V1093.1 Z" fill="#00007f"/>
<path d="M437.5 1093.1 V1028.78 Q437.5 1026.58 439.7 1026.58 H443.5 Q445.7 1026.58 445.7 1028.78 V1093.1 Z" fill="#5c5cff"/>
<path d="M447.3 1093.1 V1061.44 Q447.3 1059.24 449.5 1059.24 H453.3 Q455.5 1059.24 455.5 1061.44 V1093.1 Z" fill="#005f00"/>
<path d="M457.1 1093.1 V1077.77 Q457.1 1075.57 459.3 1075.57 H463.1 Q465.3 1075.57 465.3 1077.77 V1093.1 Z" fill="#00ff00"/>
<path d="M466.9 1093.1 V1061.44 Q466.9 1059.24 469.1 1059.24 H472.9 Q475.1 1059.24 475.1 1061.44 V1093.1 Z" fill="#ff9f3f"/>
<path d="M476.7 1093.1 V1061.44 Q476.7 1059.24 478.9 1059.24 H482.7 Q484.9 1059.24 484.9 1061.44 V1093.1 Z" fill="#ff6000"/>
<path d="M486.5 1093.1 V1012.45 Q486.5 1010.25 488.7 1010.25 H492.5 Q494.7 1010.25 494.7 1012.45 V1093.1 Z" fill="#9f0000"/>
<line x1="64.5" y1="844" x2="64.5" y2="946.7" stroke="#000" stroke-width="2.2"/>
<line x1="64.5" y1="961.7" x2="64.5" y2="1093.1" stroke="#000" stroke-width="2.2"/>
<line x1="57.6" y1="845" x2="64.5" y2="845" stroke="#000" stroke-width="2.2"/>
<text x="54.8" y="850.5" text-anchor="end" font-family='"Liberation Sans", sans-serif' font-weight="bold" font-size="16.5" fill="#000">300</text>
<line x1="57.6" y1="870.18" x2="64.5" y2="870.18" stroke="#000" stroke-width="2.2"/>
<text x="54.8" y="875.68" text-anchor="end" font-family='"Liberation Sans", sans-serif' font-weight="bold" font-size="16.5" fill="#000">250</text>
<line x1="57.6" y1="895.35" x2="64.5" y2="895.35" stroke="#000" stroke-width="2.2"/>
<text x="54.8" y="900.85" text-anchor="end" font-family='"Liberation Sans", sans-serif' font-weight="bold" font-size="16.5" fill="#000">200</text>
<line x1="57.6" y1="920.53" x2="64.5" y2="920.53" stroke="#000" stroke-width="2.2"/>
<text x="54.8" y="926.03" text-anchor="end" font-family='"Liberation Sans", sans-serif' font-weight="bold" font-size="16.5" fill="#000">150</text>
<line x1="57.6" y1="945.7" x2="69.3" y2="945.7" stroke="#000" stroke-width="2.2"/>
<text x="54.8" y="951.2" text-anchor="end" font-family='"Liberation Sans", sans-serif' font-weight="bold" font-size="16.5" fill="#000">100</text>
<line x1="57.6" y1="962.46" x2="69.3" y2="962.46" stroke="#000" stroke-width="2.2"/>
<text x="55.4" y="968.26" text-anchor="end" font-family='"Liberation Sans", sans-serif' font-weight="bold" font-size="16.5" fill="#000">8</text>
<line x1="57.6" y1="995.12" x2="64.5" y2="995.12" stroke="#000" stroke-width="2.2"/>
<text x="55.4" y="1000.92" text-anchor="end" font-family='"Liberation Sans", sans-serif' font-weight="bold" font-size="16.5" fill="#000">6</text>
<line x1="57.6" y1="1027.78" x2="64.5" y2="1027.78" stroke="#000" stroke-width="2.2"/>
<text x="55.4" y="1033.58" text-anchor="end" font-family='"Liberation Sans", sans-serif' font-weight="bold" font-size="16.5" fill="#000">4</text>
<line x1="57.6" y1="1060.44" x2="64.5" y2="1060.44" stroke="#000" stroke-width="2.2"/>
<text x="55.4" y="1066.24" text-anchor="end" font-family='"Liberation Sans", sans-serif' font-weight="bold" font-size="16.5" fill="#000">2</text>
<line x1="57.6" y1="1093.1" x2="64.5" y2="1093.1" stroke="#000" stroke-width="2.2"/>
<text x="55.4" y="1098.9" text-anchor="end" font-family='"Liberation Sans", sans-serif' font-weight="bold" font-size="16.5" fill="#000">0</text>
<line x1="57.2" y1="1093.1" x2="506.5" y2="1093.1" stroke="#000" stroke-width="2.2"/>
<line x1="107.9" y1="1093.1" x2="107.9" y2="1104.9" stroke="#000" stroke-width="2.2"/>
<text x="107.9" y="1123.9" text-anchor="middle" font-family='"Liberation Sans", sans-serif' font-weight="bold" font-size="17" fill="#000">SE</text>
<line x1="196.1" y1="1093.1" x2="196.1" y2="1104.9" stroke="#000" stroke-width="2.2"/>
<text x="196.1" y="1123.9" text-anchor="middle" font-family='"Liberation Sans", sans-serif' font-weight="bold" font-size="17" fill="#000">MXE</text>
<line x1="284.3" y1="1093.1" x2="284.3" y2="1104.9" stroke="#000" stroke-width="2.2"/>
<text x="284.3" y="1123.9" text-anchor="middle" font-family='"Liberation Sans", sans-serif' font-weight="bold" font-size="17" fill="#000">A5SS</text>
<line x1="372.5" y1="1093.1" x2="372.5" y2="1104.9" stroke="#000" stroke-width="2.2"/>
<text x="372.5" y="1123.9" text-anchor="middle" font-family='"Liberation Sans", sans-serif' font-weight="bold" font-size="17" fill="#000">A3SS</text>
<line x1="460.7" y1="1093.1" x2="460.7" y2="1104.9" stroke="#000" stroke-width="2.2"/>
<text x="460.7" y="1123.9" text-anchor="middle" font-family='"Liberation Sans", sans-serif' font-weight="bold" font-size="17" fill="#000">RI</text>
<text transform="translate(16.2 967.9) rotate(-90)" text-anchor="middle" font-family='"Liberation Sans", sans-serif' font-weight="bold" font-size="18.6" fill="#000">Count</text>
<rect x="526.8" y="872" width="27.9" height="15.1" rx="2.2" fill="#00007f"/>
<text x="566.8" y="886.5" font-family='"Liberation Sans", sans-serif' font-size="18.6" textLength="83.6" lengthAdjust="spacingAndGlyphs" fill="#000">H38vsH58</text>
<rect x="526.8" y="898.37" width="27.9" height="15.1" rx="2.2" fill="#5c5cff"/>
<text x="566.8" y="912.87" font-family='"Liberation Sans", sans-serif' font-size="18.6" textLength="83.6" lengthAdjust="spacingAndGlyphs" fill="#000">H58vsH78</text>
<rect x="526.8" y="924.74" width="27.9" height="15.1" rx="2.2" fill="#005f00"/>
<text x="566.8" y="939.24" font-family='"Liberation Sans", sans-serif' font-size="18.6" textLength="118" lengthAdjust="spacingAndGlyphs" fill="#000">LW38vsLW58</text>
<rect x="526.8" y="951.11" width="27.9" height="15.1" rx="2.2" fill="#00ff00"/>
<text x="566.8" y="965.61" font-family='"Liberation Sans", sans-serif' font-size="18.6" textLength="118" lengthAdjust="spacingAndGlyphs" fill="#000">LW58vsLW78</text>
<rect x="526.8" y="977.48" width="27.9" height="15.1" rx="2.2" fill="#ff9f3f"/>
<text x="566.8" y="991.98" font-family='"Liberation Sans", sans-serif' font-size="18.6" textLength="100.4" lengthAdjust="spacingAndGlyphs" fill="#000">H38vsLW38</text>
<rect x="526.8" y="1003.85" width="27.9" height="15.1" rx="2.2" fill="#ff6000"/>
<text x="566.8" y="1018.35" font-family='"Liberation Sans", sans-serif' font-size="18.6" textLength="100.4" lengthAdjust="spacingAndGlyphs" fill="#000">H58vsLW58</text>
<rect x="526.8" y="1030.22" width="27.9" height="15.1" rx="2.2" fill="#9f0000"/>
<text x="566.8" y="1044.72" font-family='"Liberation Sans", sans-serif' font-size="18.6" textLength="100.4" lengthAdjust="spacingAndGlyphs" fill="#000">H78vsLW78</text>
</g>
</svg>
</body></html>
